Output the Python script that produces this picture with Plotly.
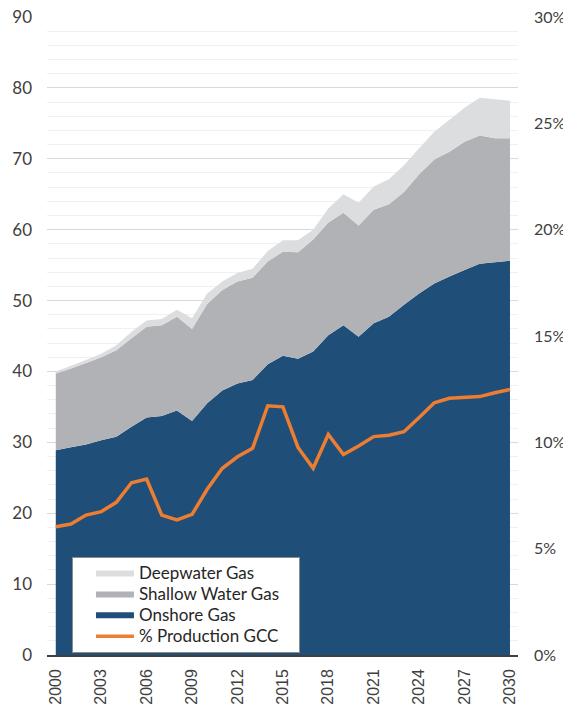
import plotly.graph_objects as go

years = list(range(2000, 2031))

onshore = [28.9, 29.3, 29.7, 30.3, 30.8, 32.2, 33.5, 33.7, 34.5, 33.0,
           35.5, 37.3, 38.3, 38.8, 41.0, 42.2, 41.8, 42.8, 45.1, 46.5,
           44.9, 46.8, 47.7, 49.4, 51.0, 52.4, 53.4, 54.3, 55.2, 55.4, 55.6]

shallow = [10.8, 11.1, 11.5, 11.7, 12.2, 12.5, 12.8, 12.8, 13.2, 13.0,
           14.0, 14.2, 14.4, 14.4, 14.5, 14.7, 15.0, 15.8, 15.9, 15.9,
           15.7, 16.0, 15.9, 15.9, 16.8, 17.5, 17.6, 18.1, 18.1, 17.5, 17.3]

deepwater = [0.3, 0.4, 0.4, 0.5, 0.7, 0.9, 0.9, 0.9, 1.0, 1.5,
             1.5, 1.2, 1.2, 1.3, 1.5, 1.6, 1.7, 1.4, 2.0, 2.6,
             3.2, 3.3, 3.5, 3.8, 3.7, 3.9, 4.5, 4.8, 5.3, 5.5, 5.3]

pct_gcc = [6.03, 6.16, 6.58, 6.74, 7.18, 8.10, 8.27, 6.58, 6.35, 6.61,
           7.79, 8.78, 9.32, 9.72, 11.72, 11.67, 9.76, 8.78, 10.37, 9.43,
           9.83, 10.27, 10.33, 10.50, 11.17, 11.86, 12.07, 12.13, 12.15, 12.33, 12.49]

x_ticks = list(range(2000, 2031, 3))

C_ON = "#1f4e79"
C_SH = "#b1b2b5"
C_DW = "#dcdddf"
C_OR = "#ed7d31"


def lg(name, pad=""):
    # legend label drawn a little larger than the legend's base font (keeps rows tight)
    return f'<span style="font-size:17px">{name}</span>{pad}'


fig = go.Figure()
fig.add_trace(go.Scatter(x=years, y=onshore, name=lg("Onshore Gas"), stackgroup="gas",
                         mode="none", fillcolor=C_ON, legendrank=3))
fig.add_trace(go.Scatter(x=years, y=shallow, name=lg("Shallow Water Gas", "\u00a0\u00a0\u00a0\u00a0"),
                         stackgroup="gas", mode="none", fillcolor=C_SH, legendrank=2))
fig.add_trace(go.Scatter(x=years, y=deepwater, name=lg("Deepwater Gas"), stackgroup="gas",
                         mode="none", fillcolor=C_DW, legendrank=1))
fig.add_trace(go.Scatter(x=years, y=pct_gcc, name=lg("% Production GCC"), yaxis="y2",
                         mode="lines", line=dict(color=C_OR, width=3.5), legendrank=4))

txt = "#404040"
# page body has an 8px default margin; figure is sized so it fills the 571x708 window
fig.update_layout(
    width=563, height=700,
    margin=dict(l=39, r=53, t=9, b=53, autoexpand=False),
    paper_bgcolor="white", plot_bgcolor="white",
    font=dict(family="Lato", size=16, color=txt),
    showlegend=True,
    legend=dict(x=0.053, y=0.1536, xanchor="left", yanchor="top",
                traceorder="normal", indentation=18,
                bgcolor="white", bordercolor="#8c8c8c", borderwidth=1,
                font=dict(family="Lato", size=13.8, color="#262626"),
                itemwidth=38, tracegroupgap=0),
    xaxis=dict(range=[1999.42, 2030.53], tickvals=x_ticks, ticktext=[str(v) for v in x_ticks],
               tickangle=-90, showgrid=False, zeroline=False, automargin=False,
               showline=True, linecolor="#404040", linewidth=1.5, ticks="",
               tickfont=dict(family="Liberation Sans", size=16, color=txt),
               ticklabelstandoff=6),
    yaxis=dict(range=[0, 90], dtick=10, showgrid=True, gridcolor="#d9d9d9", gridwidth=1,
               minor=dict(dtick=2, showgrid=True, gridcolor="#f0f0f0", gridwidth=1),
               zeroline=False, showline=False, ticks="", automargin=False,
               ticklabeloverflow="allow",
               tickfont=dict(family="Lato", size=17, color=txt), ticklabelstandoff=14),
    yaxis2=dict(range=[0, 30], dtick=5, overlaying="y", side="right", ticksuffix="%",
                showgrid=False, zeroline=False, showline=False, ticks="", automargin=False,
                ticklabeloverflow="allow",
                tickfont=dict(family="Lato", size=16, color=txt), ticklabelstandoff=15),
)

fig.write_html("out.html")
